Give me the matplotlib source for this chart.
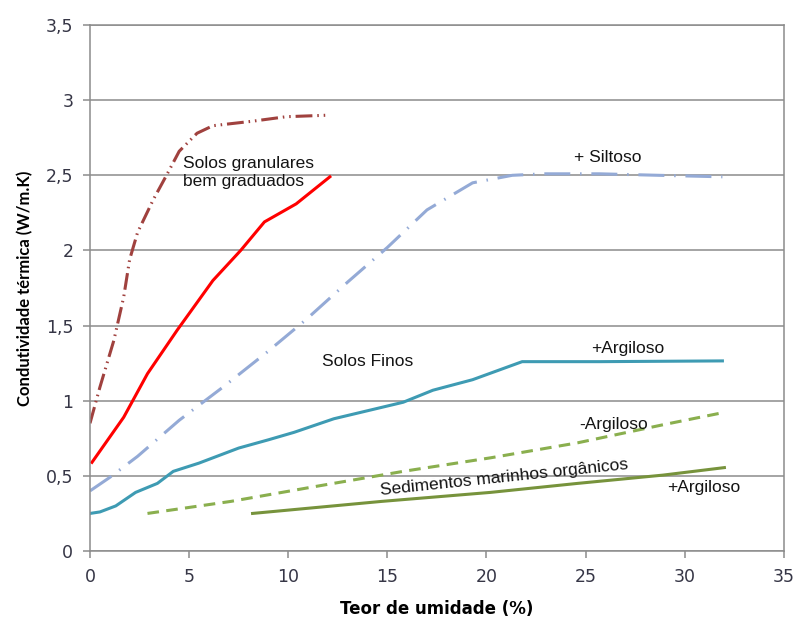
import matplotlib
matplotlib.use("Agg")
import matplotlib.pyplot as plt

# ---------------- DATA ----------------
granular_x = [0.0, 0.5, 1.2, 1.7, 2.0, 2.4, 3.2, 3.9, 4.5, 5.4, 6.2, 8.2, 9.9, 12.0]
granular_y = [0.85, 1.09, 1.40, 1.69, 1.94, 2.12, 2.34, 2.51, 2.66, 2.78, 2.83, 2.86, 2.89, 2.90]

red_x = [0.1, 1.7, 2.9, 4.4, 6.2, 7.6, 8.8, 10.4, 12.1]
red_y = [0.59, 0.89, 1.18, 1.47, 1.80, 2.00, 2.19, 2.31, 2.49]

silt_x = [0.0, 1.0, 2.4, 4.5, 6.7, 8.9, 10.9, 13.0, 15.0, 17.0, 19.3, 21.3, 22.9, 25.7, 28.7, 31.9]
silt_y = [0.40, 0.49, 0.63, 0.87, 1.09, 1.32, 1.54, 1.79, 2.02, 2.27, 2.45, 2.50, 2.51, 2.51, 2.50, 2.49]

fine_x = [0.0, 0.5, 1.3, 2.3, 3.4, 4.2, 5.5, 7.5, 9.0, 10.3, 12.3, 15.8, 17.3, 19.3, 21.8, 25.7, 31.9]
fine_y = [0.25, 0.26, 0.30, 0.39, 0.45, 0.53, 0.585, 0.685, 0.74, 0.79, 0.88, 0.99, 1.07, 1.14, 1.26, 1.26, 1.265]

less_clay_x = [2.9, 7.1, 11.4, 15.8, 20.2, 24.6, 28.9, 31.9]
less_clay_y = [0.25, 0.33, 0.43, 0.53, 0.62, 0.72, 0.84, 0.92]

sed_x = [8.2, 14.7, 20.2, 24.6, 28.9, 32.0]
sed_y = [0.25, 0.33, 0.39, 0.45, 0.505, 0.555]

x_ticks = [0, 5, 10, 15, 20, 25, 30, 35]
y_ticks = [0, 0.5, 1, 1.5, 2, 2.5, 3, 3.5]
y_tick_labels = ["0", "0,5", "1", "1,5", "2", "2,5", "3", "3,5"]

# ---------------- PLOT ----------------
fig = plt.figure(figsize=(7.95, 6.18), dpi=100)
ax = fig.add_axes([0.1132, 0.1084, 0.8728, 0.8511])

ax.plot(granular_x, granular_y, color="#A0413E", lw=2.2,
        linestyle=(0, (5.5, 1.6, 0.5, 1.6, 0.5, 1.6)))
ax.plot(red_x, red_y, color="#FF0000", lw=2.2)
ax.plot(silt_x, silt_y, color="#94AAD6", lw=2.2,
        linestyle=(0, (8.5, 3.2, 0.5, 3.2)))
ax.plot(fine_x, fine_y, color="#3E9BB3", lw=2.2)
ax.plot(less_clay_x, less_clay_y, color="#8AAF4E", lw=2.2,
        linestyle=(0, (3.8, 2.4)))
ax.plot(sed_x, sed_y, color="#77933C", lw=2.2)

# labels inside the chart
txt = dict(fontsize=12.5, color="#141414", family="Liberation Sans")
ax.text(4.7, 2.52, "Solos granulares\nbem graduados", va="center", ha="left",
        linespacing=1.25, **txt)
ax.text(26.1, 2.62, "+ Siltoso", ha="center", va="center", **txt)
ax.text(11.7, 1.26, "Solos Finos", ha="left", va="center", **txt)
ax.text(25.3, 1.35, "+Argiloso", ha="left", va="center", **txt)
ax.text(24.7, 0.84, "-Argiloso", ha="left", va="center", **txt)
ax.text(20.9, 0.49, "Sedimentos marinhos orgânicos", ha="center", va="center",
        rotation=6, rotation_mode="anchor", **txt)
ax.text(29.1, 0.42, "+Argiloso", ha="left", va="center", **txt)

# axes styling
ax.set_xlim(0, 35)
ax.set_ylim(0, 3.5)
ax.set_xticks(x_ticks)
ax.set_yticks(y_ticks)
ax.set_yticklabels(y_tick_labels)
ax.grid(axis="y", color="#8C8C8C", lw=1.1)
ax.set_axisbelow(True)
for s in ax.spines.values():
    s.set_color("#8C8C8C")
    s.set_linewidth(1.1)
ax.tick_params(direction="out", length=5, color="#8C8C8C", width=1.1,
               labelsize=12.5, labelcolor="#363646", pad=7)
for lab in ax.get_xticklabels() + ax.get_yticklabels():
    lab.set_family("DejaVu Sans")

ax.set_xlabel("Teor de umidade (%)", fontsize=12, fontweight="bold",
              family="DejaVu Sans", labelpad=10)
ax.set_ylabel("Condutividade térmica (W/m.K)", fontsize=12, fontweight="bold",
              family="Lato", labelpad=9)

fig.savefig("out.png", dpi=100)
